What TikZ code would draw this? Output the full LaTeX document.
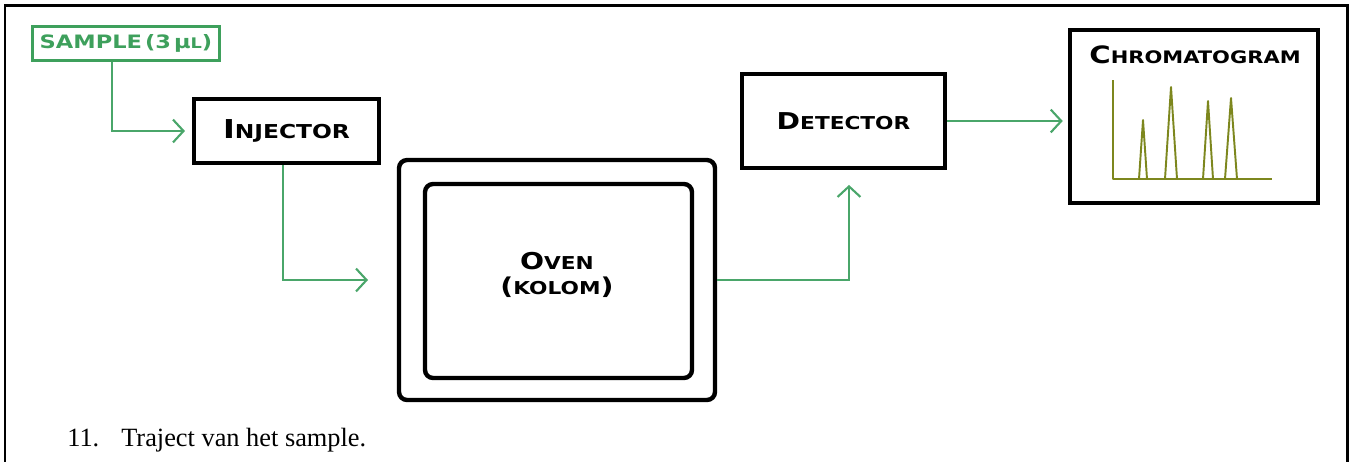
\documentclass[tikz,border=0pt]{standalone}
\usepackage{fontspec}
\setmainfont{Liberation Serif}
\newfontfamily\cpfont{DejaVu Sans}[FakeStretch=1.22]
\usetikzlibrary{arrows.meta}
\definecolor{flowgreen}{RGB}{74,166,106}
\definecolor{samplegreen}{RGB}{62,160,92}
\definecolor{peakolive}{RGB}{125,135,30}
% first letter large, rest as small capitals
\newcommand\cplab[4]{{\fontsize{#1}{#1}\selectfont #3}{\fontsize{#2}{#2}\selectfont #4}}

\begin{document}
\begin{tikzpicture}[x=0.02cm,y=-0.02cm,
  box/.style={draw,line width=2.3pt,inner sep=0pt,font=\cpfont\bfseries},
  ovenbox/.style={draw,line width=2.5pt,rounded corners=0.16cm,inner sep=0pt},
  flowline/.style={draw=flowgreen,line width=1.2pt,-{Straight Barb[length=6pt,width=13pt]}},
  peak/.style={draw=peakolive,line width=1.1pt,line join=round}]
  \useasboundingbox (0,0) rectangle (1349,461);
  % frame
  \draw[line width=1.7pt] (5,475) -- (5,5) -- (1347,5) -- (1347,475);
  % boxes
  \node[draw=samplegreen,line width=2pt,text=samplegreen,inner sep=0pt,
    minimum width=3.74cm,minimum height=0.68cm,font=\cpfont\bfseries\fontsize{10.5}{12}\selectfont]
    (sample) at (126,43.5) {SAMPLE\,(3\,µ{\fontsize{8.3}{9}\selectfont L})};
  \node[box,minimum width=3.7cm,minimum height=1.28cm] (injector) at (286.5,131)
    {\cplab{14.8}{10.9}{I}{NJECTOR}};
  \node[ovenbox,minimum width=6.32cm,minimum height=4.8cm] (oven) at (557,280) {};
  \node[ovenbox,minimum width=5.34cm,minimum height=3.88cm] (kolom) at (558.5,281) {};
  \node[align=center,font=\cpfont\bfseries\fontsize{13.2}{14.2}\selectfont]
    (ovenlab) at ([xshift=-0.03cm,yshift=0.12cm]kolom.center)
    {\cplab{13.2}{10.1}{O}{VEN}\\\cplab{13.2}{10.1}{(}{KOLOM}{\fontsize{13.2}{14.2}\selectfont)}};
  \node[box,minimum width=4.06cm,minimum height=1.88cm] (detector) at (843.5,121)
    {\cplab{13.2}{10.1}{D}{ETECTOR}};
  \node[box,minimum width=4.96cm,minimum height=3.46cm] (chrom) at (1194,116.5) {};
  \node[font=\cpfont\bfseries] (chromlab) at (1195,55) {\cplab{13.6}{9.8}{C}{HROMATOGRAM}};
  % chromatogram trace
  \draw[peak] (1113,80) |- (1272,179);
  \foreach \a/\w/\h in {1143/4/120,1171/6/87,1208/5/101,1231/6/98}
    \draw[peak] (\a-\w,179) -- (\a,\h) -- (\a+\w,179);
  % sample path
  \draw[flowline,shorten >=4pt] ([xshift=-0.28cm]sample.south) |- (injector.west);
  \draw[flowline,shorten >=16.4pt] ([xshift=-0.07cm]injector.south) |- (oven.west);
  \draw[flowline,shorten >=8.5pt] (oven.east) -| ([xshift=0.11cm]detector.south);
  \draw[flowline,shorten >=3pt] (detector.east) -- (detector.east -| chrom.west);
  % caption
  \node[anchor=base west,inner sep=0pt,font=\fontsize{15}{18}\selectfont] (caption)
    at (67,446) {11.\hspace{12.5pt}Traject van het sample.};
\end{tikzpicture}
\end{document}
